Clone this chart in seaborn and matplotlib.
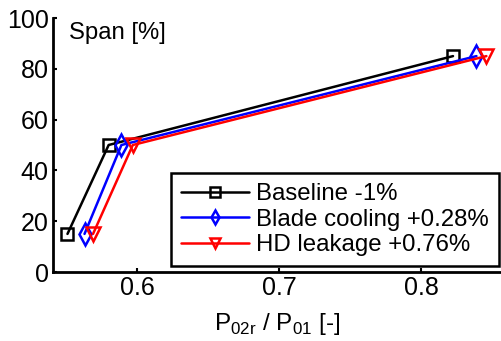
import matplotlib
matplotlib.use('Agg')
import matplotlib.pyplot as plt
import seaborn as sns
import pandas as pd

# values
span = [15, 50, 85]
baseline = [0.551, 0.580, 0.8225]
cooling = [0.563, 0.589, 0.839]
leakage = [0.569, 0.597, 0.846]
labels = ["Baseline -1%", "Blade cooling +0.28%", "HD leakage +0.76%"]

df = pd.concat([
    pd.DataFrame({"p": baseline, "span": span, "case": labels[0]}),
    pd.DataFrame({"p": cooling, "span": span, "case": labels[1]}),
    pd.DataFrame({"p": leakage, "span": span, "case": labels[2]}),
])

sns.set_style("white")
plt.rcParams['font.family'] = ['Liberation Sans', 'DejaVu Sans']
plt.rcParams['text.color'] = 'black'
plt.rcParams['axes.labelcolor'] = 'black'

fig = plt.figure(figsize=(5.02, 3.41), dpi=100)
ax = fig.add_axes([53 / 502, 69 / 341, 449 / 502, 254 / 341])

colors = {labels[0]: "black", labels[1]: "blue", labels[2]: "red"}
markers = {labels[0]: "s", labels[1]: "d", labels[2]: "v"}
sizes = {labels[0]: 8, labels[1]: 11, labels[2]: 10}

for lab in labels:
    sub = df[df["case"] == lab]
    sns.lineplot(data=sub, x="p", y="span", ax=ax, color=colors[lab],
                 marker=markers[lab], markersize=sizes[lab], markerfacecolor="none",
                 markeredgecolor=colors[lab], markeredgewidth=1.8, linewidth=1.8,
                 label=lab, sort=False)

ax.set_xlim(0.5408, 0.857)
ax.set_ylim(0, 100)
ax.set_xticks([0.6, 0.7, 0.8])
ax.set_yticks([0, 20, 40, 60, 80, 100])
ax.set_xticklabels(["0.6", "0.7", "0.8"])
ax.tick_params(direction="in", length=3, width=1.5, labelsize=18, colors="black",
               bottom=True, left=True, pad=3)
for s in ["top", "right"]:
    ax.spines[s].set_visible(False)
for s in ["left", "bottom"]:
    ax.spines[s].set_color("black")
    ax.spines[s].set_linewidth(2)

ax.set_xlabel(r"P$_{\mathregular{02r}}$ / P$_{\mathregular{01}}$ [-]", fontsize=17.5, labelpad=8)
ax.set_ylabel("")
ax.text(0.035, 0.985, "Span [%]", transform=ax.transAxes, fontsize=17.2, va="top")

leg = ax.legend(loc="lower right", bbox_to_anchor=(0.998, 0.014), fontsize=17.3,
                handlelength=2.8, frameon=True, fancybox=False, framealpha=1,
                borderpad=0.42, labelspacing=0.14, handletextpad=0.3, borderaxespad=0.1)
leg.get_frame().set_edgecolor("black")
leg.get_frame().set_linewidth(1.8)
for line in leg.get_lines():
    line.set_markersize(7)

fig.savefig("out.png", dpi=100)
